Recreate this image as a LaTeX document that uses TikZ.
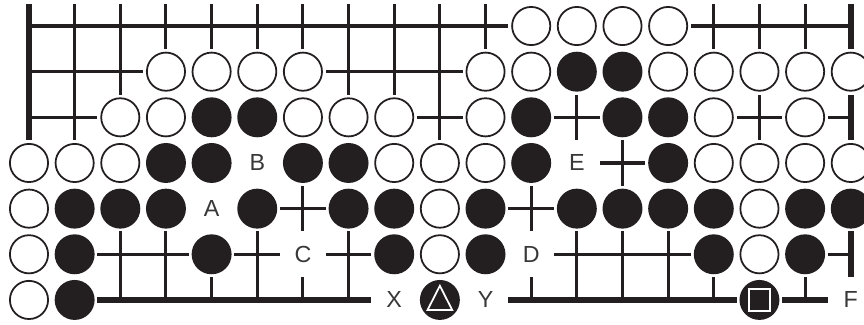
\documentclass[tikz,border=0pt]{standalone}
\usepackage{fontspec}
\setmainfont{Liberation Sans}
\usepackage{tikz}

\definecolor{ink}{RGB}{35,31,32}

\begin{document}
\begin{tikzpicture}[
  x=1cm, y=1cm,
  gridline/.style={line width=1.9pt, ink},
  edgeline/.style={line width=3.9pt, ink},
  cell/.style={white},
  wstone/.style={circle, draw=ink, fill=white, line width=1.1pt, minimum size=0.836cm, inner sep=0pt},
  bstone/.style={circle, fill=ink, minimum size=0.875cm, inner sep=0pt},
  lbl/.style={rectangle, fill=white, minimum size=1cm, inner sep=0pt, text=black!78, font=\fontsize{14.5}{14.5}\selectfont},
  markline/.style={draw=white, line width=1.1pt}
]
\useasboundingbox (-0.635,-0.548) rectangle (18.29,6.57);

% board lines
\foreach \j in {1,...,6}
  \draw[gridline] (0,\j) -- (18,\j);
\foreach \i in {1,...,17}
  \draw[gridline] (\i,0) -- (\i,6.48);
\draw[edgeline] (0,0) -- (18,0);
\draw[edgeline] (0,0) -- (0,6.48);
\draw[edgeline] (18,0) -- (18,6.48);

% white stones
\foreach \i/\j in {11/6,12/6,13/6,14/6,
    3/5,4/5,5/5,6/5,10/5,11/5,14/5,15/5,16/5,17/5,18/5,
    2/4,3/4,6/4,7/4,8/4,10/4,15/4,17/4,
    0/3,1/3,2/3,8/3,9/3,10/3,15/3,16/3,17/3,18/3,
    0/2,9/2,16/2,
    0/1,9/1,16/1,
    0/0}{
  \fill[cell] (\i-0.5,\j-0.5) rectangle ++(1,1);
  \node[wstone] (w-\i-\j) at (\i,\j) {};
}

% black stones
\foreach \i/\j in {12/5,13/5,
    4/4,5/4,11/4,13/4,14/4,
    3/3,4/3,6/3,7/3,11/3,14/3,
    1/2,2/2,3/2,5/2,7/2,8/2,10/2,12/2,13/2,14/2,15/2,17/2,18/2,
    1/1,4/1,8/1,10/1,15/1,17/1,
    1/0,9/0,16/0}{
  \fill[cell] (\i-0.5,\j-0.5) rectangle ++(1,1);
  \node[bstone] (b-\i-\j) at (\i,\j) {};
}

% marked stones
\draw[markline] (b-9-0.center) ++(0,0.31) -- ++(-0.27,-0.53) -- ++(0.54,0) -- cycle;
\draw[markline] (b-16-0.center) ++(-0.235,-0.235) rectangle ++(0.47,0.47);

% letters
\node[lbl] (la) at (4,2) {A};
\node[lbl] (lb) at (5,3) {B};
\node[lbl] (lc) at (6,1) {C};
\node[lbl] (ld) at (11,1) {D};
\node[lbl] (le) at (12,3) {E};
\node[lbl] (lx) at (8,0) {X};
\node[lbl] (ly) at (10,0) {Y};
\node[lbl] (lf) at (18,0) {F};
\end{tikzpicture}
\end{document}
